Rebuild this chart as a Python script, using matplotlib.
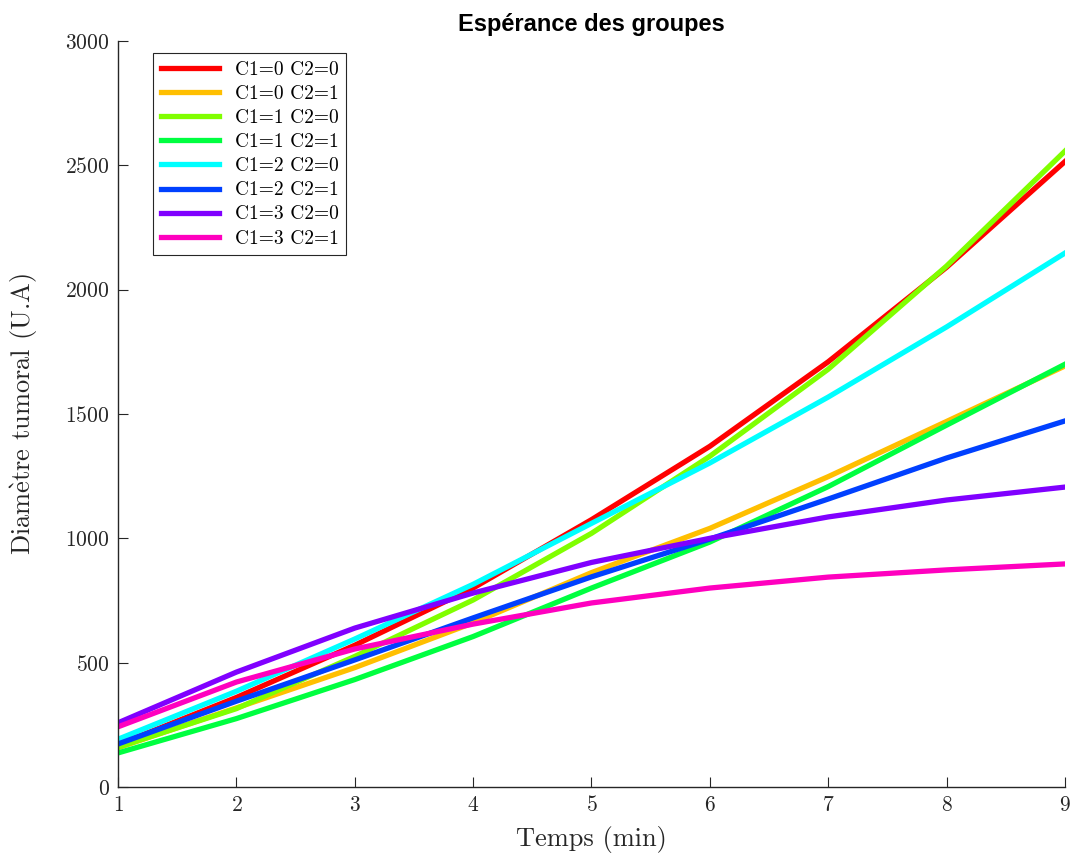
import numpy as np
import matplotlib
matplotlib.use("Agg")
import matplotlib.pyplot as plt

#######################
#   DATA
#######################

temps = [1, 2, 3, 4, 5, 6, 7, 8, 9]

labels = ["C1=0 C2=0", "C1=0 C2=1", "C1=1 C2=0", "C1=1 C2=1",
          "C1=2 C2=0", "C1=2 C2=1", "C1=3 C2=0", "C1=3 C2=1"]

c1_0_c2_0 = [170, 360, 570, 800, 1075, 1370, 1710, 2090, 2515]
c1_0_c2_1 = [158, 318, 480, 660, 862, 1040, 1248, 1470, 1693]
c1_1_c2_0 = [160, 315, 525, 752, 1020, 1330, 1680, 2095, 2557]
c1_1_c2_1 = [137, 275, 432, 605, 800, 985, 1208, 1455, 1700]
c1_2_c2_0 = [192, 385, 595, 815, 1060, 1303, 1568, 1850, 2147]
c1_2_c2_1 = [173, 345, 511, 680, 845, 997, 1158, 1323, 1472]
c1_3_c2_0 = [258, 462, 639, 780, 903, 1000, 1086, 1154, 1206]
c1_3_c2_1 = [242, 422, 555, 655, 740, 800, 844, 873, 897]

series = [c1_0_c2_0, c1_0_c2_1, c1_1_c2_0, c1_1_c2_1,
          c1_2_c2_0, c1_2_c2_1, c1_3_c2_0, c1_3_c2_1]

# hsv(8) like matlab
colors = [(1, 0, 0), (1, 0.75, 0), (0.5, 1, 0), (0, 1, 0.25),
          (0, 1, 1), (0, 0.25, 1), (0.5, 0, 1), (1, 0, 0.75)]

#######################
#   PLOT
#######################

plt.rcParams['font.family'] = ['cmr10', 'DejaVu Serif']
plt.rcParams['mathtext.fontset'] = 'cm'
plt.rcParams['axes.formatter.use_mathtext'] = True

fig = plt.figure(figsize=(10.73, 8.57), dpi=100)
ax = fig.add_axes([0.110, 0.0817, 0.8825, 0.8705])

for s, c, lab in zip(series, colors, labels):
    ax.plot(temps, s, color=c, linewidth=3.8, label=lab)

ax.set_xlim(1, 9)
ax.set_ylim(0, 3000)
ax.set_xticks(temps)
ax.set_yticks(np.arange(0, 3001, 500))

ax.spines['top'].set_visible(False)
ax.spines['right'].set_visible(False)
for sp in ['left', 'bottom']:
    ax.spines[sp].set_color('#262626')
    ax.spines[sp].set_linewidth(1.0)
ax.tick_params(direction='in', length=7, width=0.8, colors='#262626',
               labelsize=15.5, pad=6)

ax.set_xlabel("Temps (min)", fontsize=19, color='#262626', labelpad=8)
# cmr10 has no è, so the accent goes through mathtext
ax.set_ylabel(r"Diam$\grave{\mathrm{e}}$tre tumoral (U.A)", fontsize=19,
              color='#262626', labelpad=18)
ax.set_title("Espérance des groupes", fontsize=17, fontweight='bold',
             family='Liberation Sans', pad=7)

leg = ax.legend(loc='upper left', bbox_to_anchor=(0.037, 0.984),
                borderaxespad=0, fontsize=14, handlelength=3.0,
                labelspacing=0.32, fancybox=False, framealpha=1,
                edgecolor='#262626')
leg.get_frame().set_linewidth(0.8)

plt.savefig("out.png", dpi=100)
